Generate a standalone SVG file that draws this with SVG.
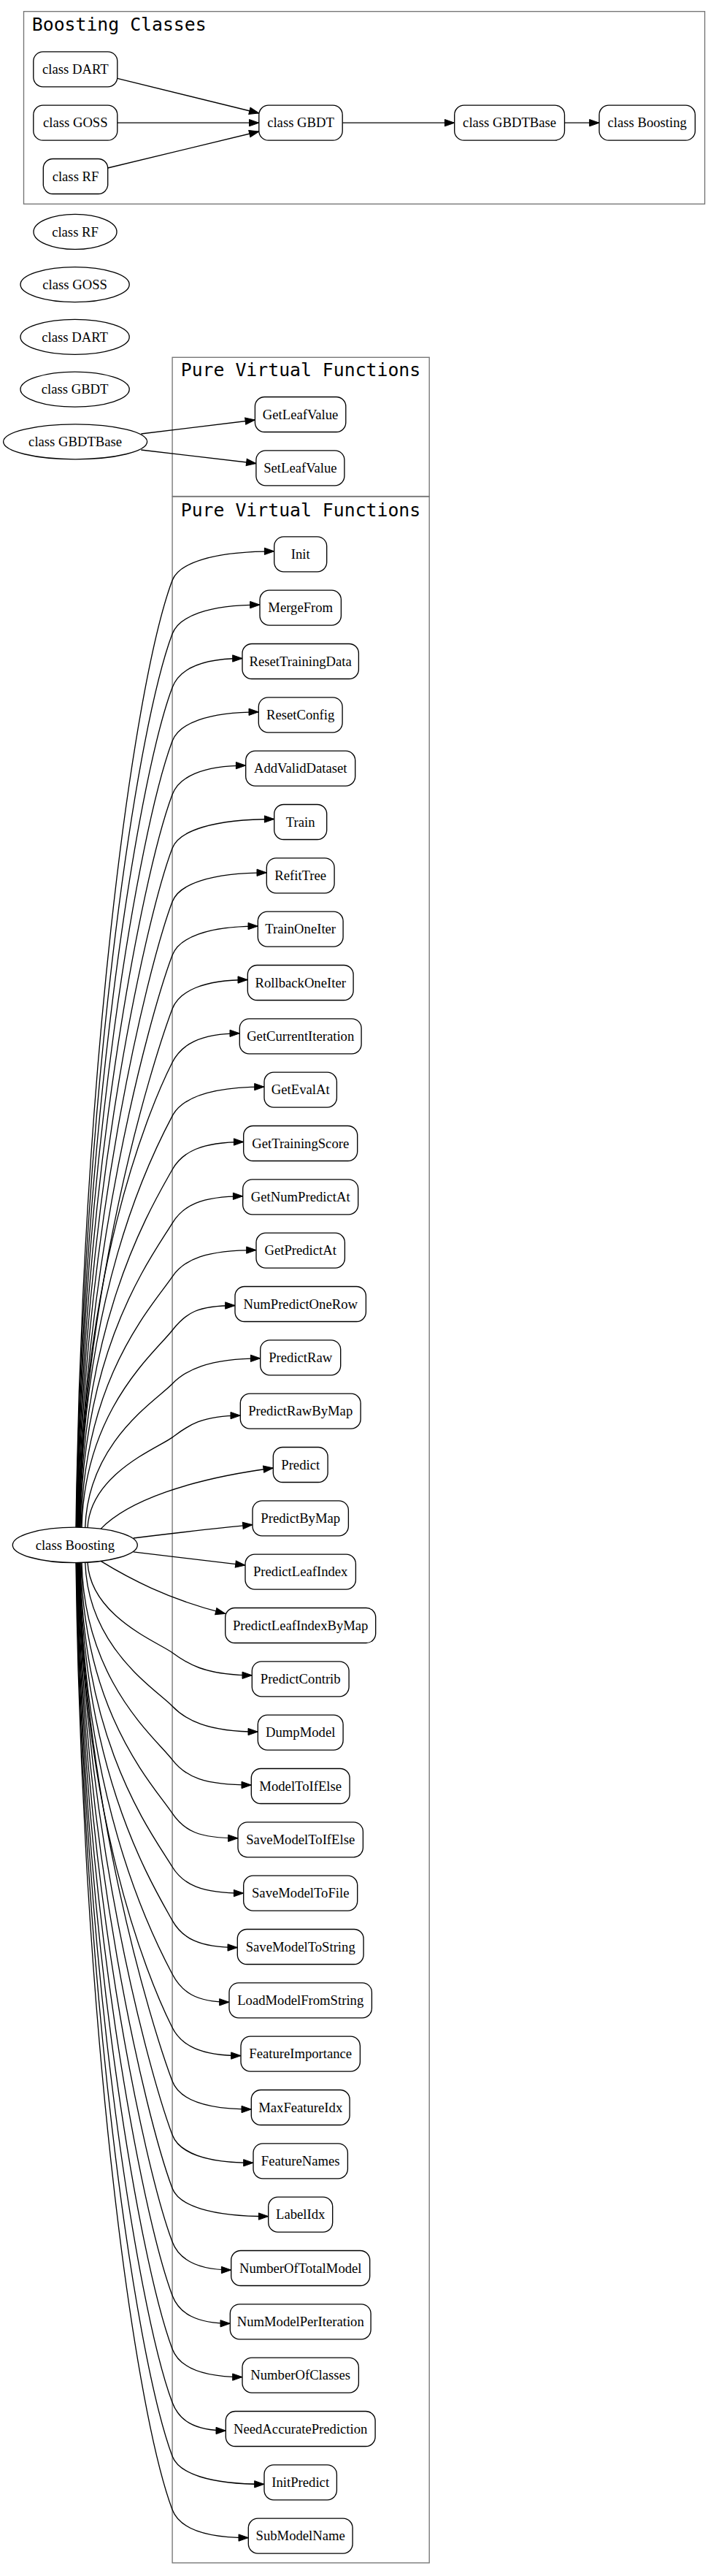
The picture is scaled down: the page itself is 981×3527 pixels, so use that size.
<svg xmlns="http://www.w3.org/2000/svg" width="981" height="3527" viewBox="0 0 981 3527">
<style>
.cl{fill:none;stroke:#737373;stroke-width:1.33}
.ct{font-family:"DejaVu Sans Mono",monospace;font-size:24.8px;fill:#000}
.nd{fill:#fff;stroke:#000;stroke-width:1.33}
.lb{font-family:"Liberation Serif","Times New Roman",serif;font-size:18.67px;text-anchor:middle;fill:#000}
.e{fill:none;stroke:#000;stroke-width:1.33;marker-end:url(#ah)}
</style>
<defs>
<marker id="ah" markerWidth="16" markerHeight="12" refX="13.3" refY="4.67" orient="auto" markerUnits="userSpaceOnUse" overflow="visible">
<path d="M0,0 L13.3,4.67 L0,9.33 z" fill="#000" stroke="#000" stroke-width="1"/>
</marker>
</defs>
<rect x="0" y="0" width="981" height="3527" fill="#fff"/>
<g id="clusters">
<rect class="cl" x="32.5" y="15.7" width="933.1" height="263.6"/>
<text class="ct" x="43.8" y="41.7">Boosting Classes</text>
<rect class="cl" x="236.1" y="489.3" width="352.1" height="190.2"/>
<text class="ct" x="412" y="515" text-anchor="middle">Pure Virtual Functions</text>
<rect class="cl" x="236.1" y="680" width="352.1" height="2829"/>
<text class="ct" x="412" y="707" text-anchor="middle">Pure Virtual Functions</text>
</g>
<g id="edges">
<path class="e" d="M160.8,107.3 L354.8,155"/>
<path class="e" d="M160.8,168.2 L354.8,168.2"/>
<path class="e" d="M147.7,230 L354.8,180"/>
<path class="e" d="M469.3,168.2 L622.7,168.2"/>
<path class="e" d="M773.5,168.2 L821,168.2"/>
<path class="e" d="M193.3,594 L349.4,575"/>
<path class="e" d="M193.3,616 L350.9,634.5"/>
<path class="e" d="M104,2091.3 C112,1481.9 180.4,943.9 236,794.8 C245,770.8 291.9,754.8 375.7,754.8"/>
<path class="e" d="M104.5,2091.3 C112.5,1516.4 183.5,1008.8 236,868.1 C245,844.1 284,828.1 356,828.1"/>
<path class="e" d="M105,2091.3 C113,1550.9 186.7,1073.7 236,941.5 C245,917.5 274.4,901.5 332,901.5"/>
<path class="e" d="M105.5,2091.3 C113.5,1585.3 189.8,1138.6 236,1014.8 C245,990.8 283.3,974.8 354.3,974.8"/>
<path class="e" d="M106,2091.3 C114,1619.8 193,1203.5 236,1088.1 C245,1064.1 276.3,1048.1 336.7,1048.1"/>
<path class="e" d="M106.5,2091.3 C114.5,1654.3 196.1,1268.4 236,1161.5 C245,1137.5 291.9,1121.5 375.7,1121.5"/>
<path class="e" d="M107,2091.3 C115,1688.7 199.3,1333.3 236,1234.8 C245,1210.8 287.7,1194.8 365.3,1194.8"/>
<path class="e" d="M107.5,2091.3 C115.5,1723.2 202.4,1398.2 236,1308.1 C245,1284.1 282.9,1268.1 353.3,1268.1"/>
<path class="e" d="M108,2091.3 C116,1757.7 205.6,1463.1 236,1381.5 C245,1357.5 277.3,1341.5 339.3,1341.5"/>
<path class="e" d="M108.5,2091.3 C112.5,1748.9 199.1,1528 236,1454.8 C248.1,1430.8 272.9,1414.8 328.3,1414.8"/>
<path class="e" d="M109,2091.3 C113,1777 201.6,1592.9 236,1528.1 C248.7,1504.1 286.4,1488.1 362,1488.1"/>
<path class="e" d="M109.5,2091.3 C113.5,1808.7 204.2,1657.8 236,1601.5 C249.6,1577.5 275.1,1563.5 333.7,1563.5"/>
<path class="e" d="M110,2091.3 C114,1843.1 206.7,1722.7 236,1674.8 C250.7,1650.8 274.7,1637.8 332.7,1637.8"/>
<path class="e" d="M111,2091.3 C115,1885.4 209.2,1787.6 236,1748.1 C252.3,1724.1 282,1711.6 351,1711.6"/>
<path class="e" d="M112,2091.3 C116,1929.4 211.8,1852.5 236,1821.5 C254.8,1797.5 270.4,1787.5 322,1787.5"/>
<path class="e" d="M116.7,2091.5 C120.7,1973.5 214.3,1917.4 236,1894.8 C253.3,1876.8 284.3,1859.8 356.7,1859.8"/>
<path class="e" d="M120,2091.7 C124,2017.5 216.8,1982.3 236,1968.1 C254.9,1954.1 273.3,1938.1 329.3,1938.1"/>
<path class="e" d="M138,2093.4 C175,2055 260,2025 374.3,2010"/>
<path class="e" d="M182.7,2106 C240,2099 290,2093 346,2087.7"/>
<path class="e" d="M182.7,2124.8 C240,2131.8 290,2137.8 336,2143.1"/>
<path class="e" d="M138,2137.4 C175,2160 230,2190 308.7,2209.3"/>
<path class="e" d="M120,2139.1 C124,2213.3 216.8,2248.5 236,2262.7 C254.9,2276.7 279.7,2293.8 345.3,2293.8"/>
<path class="e" d="M116.7,2139.3 C120.7,2257.3 214.3,2313.4 236,2336 C253.3,2354 282.9,2371.1 353.3,2371.1"/>
<path class="e" d="M112,2139.5 C116,2301.4 211.8,2378.3 236,2409.3 C254.8,2433.3 279.3,2444 344.3,2444"/>
<path class="e" d="M111,2139.5 C115,2345.4 209.2,2443.2 236,2482.7 C252.3,2506.7 272,2516.8 326,2516.8"/>
<path class="e" d="M110,2139.5 C114,2387.7 206.7,2508.1 236,2556 C250.7,2580 275.1,2592.1 333.7,2592.1"/>
<path class="e" d="M109.5,2139.5 C113.5,2422.1 204.2,2573 236,2629.3 C249.6,2653.3 271.7,2666.5 325.3,2666.5"/>
<path class="e" d="M109,2139.5 C113,2453.8 201.6,2637.9 236,2702.7 C248.7,2726.7 267.2,2741.3 314,2741.3"/>
<path class="e" d="M108.5,2139.5 C112.5,2481.9 199.1,2702.8 236,2776 C248.1,2800 273.6,2814.6 330,2814.6"/>
<path class="e" d="M108,2139.5 C116,2473.1 205.6,2767.7 236,2849.3 C245,2873.3 279.3,2888 344.3,2888"/>
<path class="e" d="M107.5,2139.5 C115.5,2507.6 202.4,2832.6 236,2922.7 C245,2946.7 280.4,2961.3 347,2961.3"/>
<path class="e" d="M107,2139.5 C115,2542.1 199.3,2897.5 236,2996 C245,3020 288.7,3034.6 367.7,3034.6"/>
<path class="e" d="M106.5,2139.5 C114.5,2576.5 196.1,2962.4 236,3069.3 C245,3093.3 268.3,3108 316.7,3108"/>
<path class="e" d="M106,2139.5 C114,2611 193,3027.3 236,3142.7 C245,3166.7 267.7,3181.3 315.3,3181.3"/>
<path class="e" d="M105.5,2139.5 C113.5,2645.5 189.8,3092.2 236,3216 C245,3240 274.4,3254.6 332,3254.6"/>
<path class="e" d="M105,2139.5 C113,2679.9 186.7,3157.1 236,3289.3 C245,3313.3 265.3,3328 309.3,3328"/>
<path class="e" d="M104.5,2139.5 C112.5,2714.4 183.5,3222 236,3362.7 C245,3386.7 286.4,3401.3 362,3401.3"/>
<path class="e" d="M104,2139.5 C112,2748.9 180.4,3286.9 236,3436 C245,3460 277.7,3474.6 340.3,3474.6"/>
</g>
<g id="nodes">
<g id="box_DART" transform="translate(103.3,94.8)"><rect class="nd" x="-57.5" y="-24" width="115" height="48" rx="13"/><text class="lb" y="6.2">class DART</text></g>
<g id="box_GOSS" transform="translate(103.3,168.2)"><rect class="nd" x="-57.5" y="-24" width="115" height="48" rx="13"/><text class="lb" y="6.2">class GOSS</text></g>
<g id="box_RF" transform="translate(103.5,241.5)"><rect class="nd" x="-44.2" y="-24" width="88.4" height="48" rx="13"/><text class="lb" y="6.2">class RF</text></g>
<g id="box_GBDT" transform="translate(412,168.2)"><rect class="nd" x="-57.2" y="-24" width="114.4" height="48" rx="13"/><text class="lb" y="6.2">class GBDT</text></g>
<g id="box_GBDTBase" transform="translate(698.1,168.2)"><rect class="nd" x="-75.4" y="-24" width="150.8" height="48" rx="13"/><text class="lb" y="6.2">class GBDTBase</text></g>
<g id="box_Boosting" transform="translate(886.7,168.2)"><rect class="nd" x="-65.7" y="-24" width="131.4" height="48" rx="13"/><text class="lb" y="6.2">class Boosting</text></g>
<g id="ell_RF" transform="translate(103,317.4)"><ellipse class="nd" rx="57" ry="24"/><text class="lb" y="6.2">class RF</text></g>
<g id="ell_GOSS" transform="translate(102.6,389.6)"><ellipse class="nd" rx="74.6" ry="24"/><text class="lb" y="6.2">class GOSS</text></g>
<g id="ell_DART" transform="translate(102.6,461.4)"><ellipse class="nd" rx="74.6" ry="24"/><text class="lb" y="6.2">class DART</text></g>
<g id="ell_GBDT" transform="translate(102.6,533.1)"><ellipse class="nd" rx="74.6" ry="24"/><text class="lb" y="6.2">class GBDT</text></g>
<g id="ell_GBDTBase" transform="translate(103.1,604.8)"><ellipse class="nd" rx="98.5" ry="24"/><text class="lb" y="6.2">class GBDTBase</text></g>
<g id="ell_Boosting" transform="translate(102.8,2115.4)"><ellipse class="nd" rx="85.5" ry="24.2"/><text class="lb" y="6.2">class Boosting</text></g>
<g id="GetLeafValue" transform="translate(411.6,567.5)"><rect class="nd" x="-62.2" y="-24" width="124.4" height="48" rx="13"/><text class="lb" y="6.2">GetLeafValue</text></g>
<g id="SetLeafValue" transform="translate(411.4,640.8)"><rect class="nd" x="-60.5" y="-24" width="121" height="48" rx="13"/><text class="lb" y="6.2">SetLeafValue</text></g>
<g id="Init" transform="translate(411.7,758.8)"><rect class="nd" x="-36" y="-24" width="72" height="48" rx="13"/><text class="lb" y="6.2">Init</text></g>
<g id="MergeFrom" transform="translate(411.7,832.1)"><rect class="nd" x="-55.7" y="-24" width="111.4" height="48" rx="13"/><text class="lb" y="6.2">MergeFrom</text></g>
<g id="ResetTrainingData" transform="translate(411.7,905.5)"><rect class="nd" x="-79.7" y="-24" width="159.4" height="48" rx="13"/><text class="lb" y="6.2">ResetTrainingData</text></g>
<g id="ResetConfig" transform="translate(411.7,978.8)"><rect class="nd" x="-57.4" y="-24" width="114.8" height="48" rx="13"/><text class="lb" y="6.2">ResetConfig</text></g>
<g id="AddValidDataset" transform="translate(411.7,1052.1)"><rect class="nd" x="-75" y="-24" width="150" height="48" rx="13"/><text class="lb" y="6.2">AddValidDataset</text></g>
<g id="Train" transform="translate(411.7,1125.5)"><rect class="nd" x="-36" y="-24" width="72" height="48" rx="13"/><text class="lb" y="6.2">Train</text></g>
<g id="RefitTree" transform="translate(411.7,1198.8)"><rect class="nd" x="-46.4" y="-24" width="92.8" height="48" rx="13"/><text class="lb" y="6.2">RefitTree</text></g>
<g id="TrainOneIter" transform="translate(411.7,1272.1)"><rect class="nd" x="-58.4" y="-24" width="116.8" height="48" rx="13"/><text class="lb" y="6.2">TrainOneIter</text></g>
<g id="RollbackOneIter" transform="translate(411.7,1345.5)"><rect class="nd" x="-72.4" y="-24" width="144.8" height="48" rx="13"/><text class="lb" y="6.2">RollbackOneIter</text></g>
<g id="GetCurrentIteration" transform="translate(411.7,1418.8)"><rect class="nd" x="-83.4" y="-24" width="166.8" height="48" rx="13"/><text class="lb" y="6.2">GetCurrentIteration</text></g>
<g id="GetEvalAt" transform="translate(411.7,1492.1)"><rect class="nd" x="-49.7" y="-24" width="99.4" height="48" rx="13"/><text class="lb" y="6.2">GetEvalAt</text></g>
<g id="GetTrainingScore" transform="translate(411.7,1565.5)"><rect class="nd" x="-78" y="-24" width="156" height="48" rx="13"/><text class="lb" y="6.2">GetTrainingScore</text></g>
<g id="GetNumPredictAt" transform="translate(411.7,1638.8)"><rect class="nd" x="-79" y="-24" width="158" height="48" rx="13"/><text class="lb" y="6.2">GetNumPredictAt</text></g>
<g id="GetPredictAt" transform="translate(411.7,1712.1)"><rect class="nd" x="-60.7" y="-24" width="121.4" height="48" rx="13"/><text class="lb" y="6.2">GetPredictAt</text></g>
<g id="NumPredictOneRow" transform="translate(411.7,1785.5)"><rect class="nd" x="-89.7" y="-24" width="179.4" height="48" rx="13"/><text class="lb" y="6.2">NumPredictOneRow</text></g>
<g id="PredictRaw" transform="translate(411.7,1858.8)"><rect class="nd" x="-55" y="-24" width="110" height="48" rx="13"/><text class="lb" y="6.2">PredictRaw</text></g>
<g id="PredictRawByMap" transform="translate(411.7,1932.1)"><rect class="nd" x="-82.4" y="-24" width="164.8" height="48" rx="13"/><text class="lb" y="6.2">PredictRawByMap</text></g>
<g id="Predict" transform="translate(411.7,2005.5)"><rect class="nd" x="-37.4" y="-24" width="74.8" height="48" rx="13"/><text class="lb" y="6.2">Predict</text></g>
<g id="PredictByMap" transform="translate(411.7,2078.8)"><rect class="nd" x="-65.7" y="-24" width="131.4" height="48" rx="13"/><text class="lb" y="6.2">PredictByMap</text></g>
<g id="PredictLeafIndex" transform="translate(411.7,2152.1)"><rect class="nd" x="-75.7" y="-24" width="151.4" height="48" rx="13"/><text class="lb" y="6.2">PredictLeafIndex</text></g>
<g id="PredictLeafIndexByMap" transform="translate(411.7,2225.5)"><rect class="nd" x="-103" y="-24" width="206" height="48" rx="13"/><text class="lb" y="6.2">PredictLeafIndexByMap</text></g>
<g id="PredictContrib" transform="translate(411.7,2298.8)"><rect class="nd" x="-66.4" y="-24" width="132.8" height="48" rx="13"/><text class="lb" y="6.2">PredictContrib</text></g>
<g id="DumpModel" transform="translate(411.7,2372.1)"><rect class="nd" x="-58.4" y="-24" width="116.8" height="48" rx="13"/><text class="lb" y="6.2">DumpModel</text></g>
<g id="ModelToIfElse" transform="translate(411.7,2445.5)"><rect class="nd" x="-67.4" y="-24" width="134.8" height="48" rx="13"/><text class="lb" y="6.2">ModelToIfElse</text></g>
<g id="SaveModelToIfElse" transform="translate(411.7,2518.8)"><rect class="nd" x="-85.7" y="-24" width="171.4" height="48" rx="13"/><text class="lb" y="6.2">SaveModelToIfElse</text></g>
<g id="SaveModelToFile" transform="translate(411.7,2592.1)"><rect class="nd" x="-78" y="-24" width="156" height="48" rx="13"/><text class="lb" y="6.2">SaveModelToFile</text></g>
<g id="SaveModelToString" transform="translate(411.7,2665.5)"><rect class="nd" x="-86.4" y="-24" width="172.8" height="48" rx="13"/><text class="lb" y="6.2">SaveModelToString</text></g>
<g id="LoadModelFromString" transform="translate(411.7,2738.8)"><rect class="nd" x="-97.7" y="-24" width="195.4" height="48" rx="13"/><text class="lb" y="6.2">LoadModelFromString</text></g>
<g id="FeatureImportance" transform="translate(411.7,2812.1)"><rect class="nd" x="-81.7" y="-24" width="163.4" height="48" rx="13"/><text class="lb" y="6.2">FeatureImportance</text></g>
<g id="MaxFeatureIdx" transform="translate(411.7,2885.5)"><rect class="nd" x="-67.4" y="-24" width="134.8" height="48" rx="13"/><text class="lb" y="6.2">MaxFeatureIdx</text></g>
<g id="FeatureNames" transform="translate(411.7,2958.8)"><rect class="nd" x="-64.7" y="-24" width="129.4" height="48" rx="13"/><text class="lb" y="6.2">FeatureNames</text></g>
<g id="LabelIdx" transform="translate(411.7,3032.1)"><rect class="nd" x="-44" y="-24" width="88" height="48" rx="13"/><text class="lb" y="6.2">LabelIdx</text></g>
<g id="NumberOfTotalModel" transform="translate(411.7,3105.5)"><rect class="nd" x="-95" y="-24" width="190" height="48" rx="13"/><text class="lb" y="6.2">NumberOfTotalModel</text></g>
<g id="NumModelPerIteration" transform="translate(411.7,3178.8)"><rect class="nd" x="-96.4" y="-24" width="192.8" height="48" rx="13"/><text class="lb" y="6.2">NumModelPerIteration</text></g>
<g id="NumberOfClasses" transform="translate(411.7,3252.1)"><rect class="nd" x="-79.7" y="-24" width="159.4" height="48" rx="13"/><text class="lb" y="6.2">NumberOfClasses</text></g>
<g id="NeedAccuratePrediction" transform="translate(411.7,3325.5)"><rect class="nd" x="-102.4" y="-24" width="204.8" height="48" rx="13"/><text class="lb" y="6.2">NeedAccuratePrediction</text></g>
<g id="InitPredict" transform="translate(411.7,3398.8)"><rect class="nd" x="-49.7" y="-24" width="99.4" height="48" rx="13"/><text class="lb" y="6.2">InitPredict</text></g>
<g id="SubModelName" transform="translate(411.7,3472.1)"><rect class="nd" x="-71.4" y="-24" width="142.8" height="48" rx="13"/><text class="lb" y="6.2">SubModelName</text></g>
</g>
</svg>
